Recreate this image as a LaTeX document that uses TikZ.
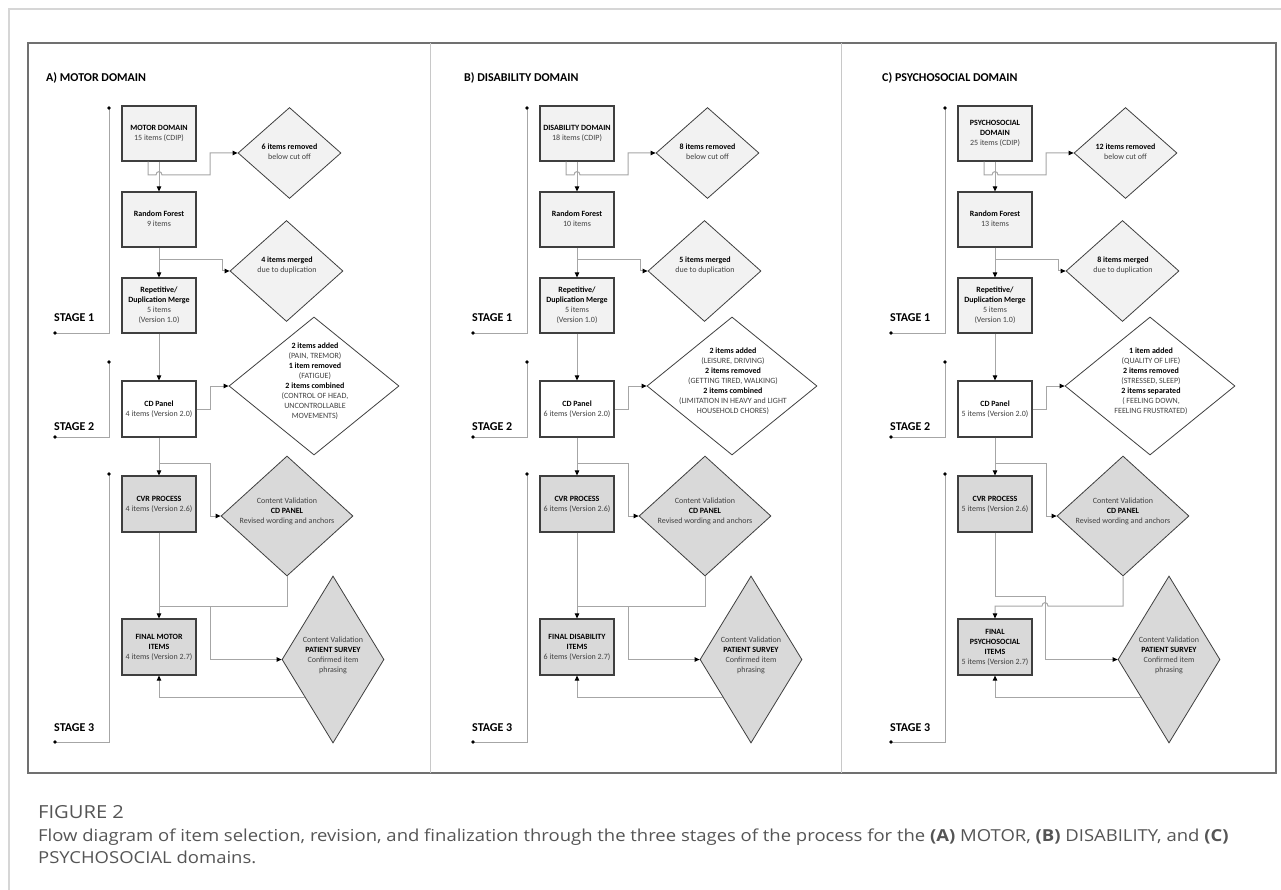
\documentclass[tikz,border=0pt]{standalone}
\usepackage{fontspec}
\setmainfont{Carlito}
\newfontfamily\capfont[FakeStretch=1.12]{Open Sans}
\usetikzlibrary{shapes.geometric,arrows.meta}
\definecolor{boxline}{HTML}{3F3F3F}
\definecolor{fillL}{HTML}{F2F2F2}
\definecolor{fillD}{HTML}{D9D9D9}
\definecolor{connc}{HTML}{A6A6A6}
\definecolor{txt}{HTML}{404040}
\definecolor{framec}{HTML}{707070}
\definecolor{divc}{HTML}{C8C8C8}
\definecolor{outerc}{HTML}{D6D6D6}
\definecolor{capc}{HTML}{555555}
\newcommand\bk[1]{\textcolor{black}{\bfseries #1}}
\newcommand\bt[2][0pt]{\raisebox{#1}{\begin{tabular}{@{}c@{}}#2\end{tabular}}}
\newcommand\panelbody{%
 \node[ttl] (ttl) at (46,82) {\tTitle};
 \coordinate (s1t) at (109,108); \coordinate (s1b) at (55,333);
 \coordinate (s2t) at (109,362); \coordinate (s2b) at (55,437);
 \coordinate (s3t) at (109,474); \coordinate (s3b) at (55,742);
 \draw[stg] (s1t) |- (s1b);
 \draw[stg] (s2t) |- (s2b);
 \draw[stg] (s3t) |- (s3b);
 \fill (s1t) circle (1.8pt) (s1b) circle (1.8pt) (s2t) circle (1.8pt)
       (s2b) circle (1.8pt) (s3t) circle (1.8pt) (s3b) circle (1.8pt);
 \node[stglbl] (l1) at (54,321) {STAGE 1};
 \node[stglbl] (l2) at (54,430) {STAGE 2};
 \node[stglbl] (l3) at (54,731) {STAGE 3};
 \node[pbox,fill=fillL] (b1) at (159,133.5) {\bt{\tBa}};
 \node[pbox,fill=fillL] (b2) at (159,219.5) {\bt{\tBb}};
 \node[pbox,fill=fillL] (b3) at (159,305.5) {\bt{\tBc}};
 \node[pbox,fill=white,minimum height=56pt] (b4) at (159,409) {\bt[5pt]{\tBd}};
 \node[pbox,fill=fillD,minimum height=56pt] (b5) at (159,504) {\bt[5pt]{\tBe}};
 \node[pbox,fill=fillD,minimum height=56pt] (b6) at (159,647) {\bt[4pt]{\tBf}};
 \node[pdia,fill=fillL,minimum width=103pt,minimum height=91pt] (d1) at (289.5,153) {};
 \node[dtxt] (t1) at (289.5,153) {\bt{\tDa}};
 \node[pdia,fill=fillL,minimum width=113pt,minimum height=101pt] (d2) at (286.5,271) {};
 \node[dtxt] (t2) at (287,266) {\bt{\tDb}};
 \node[pdia,fill=white,minimum width=170pt,minimum height=138pt] (d3) at (314,386) {};
 \node[dtxt] (t3) at (315,381.5) {\bt{\tDc}};
 \node[pdia,fill=fillD,minimum width=132pt,minimum height=120pt] (d4) at (287,516) {};
 \node[dtxt] (t4) at (287,511) {\bt{Content Validation\\\bk{CD PANEL}\\Revised wording and anchors}};
 \node[pdia,fill=fillD,minimum width=102pt,minimum height=167pt] (d5) at (333,659.5) {};
 \node[dtxt] (t5) at (333,655) {\bt{Content Validation\\\bk{PATIENT SURVEY}\\Confirmed item\\phrasing}};
 \draw[conn] ([xshift=-11pt]b1.south) -- (148,175) -- (156,175)
     .. controls (156,170.5) and (162,170.5) .. (162,175) -| (210,153) -- (d1.west);
 \draw[conn] (b1.south) -- (b2.north);
 \draw[conn] (b2.south) -- (b3.north);
 \draw[conn] ([yshift=-12pt]b2.south) -| (222,271) -- (d2.west);
 \draw[conn] (b3.south) -- (b4.north);
 \draw[conn] (b4.east) -- (210,409) |- (d3.west);
 \draw[conn] (b4.south) -- (b5.north);
 \draw[conn] ([yshift=-26pt]b4.south) -| (210,516) -- (d4.west);
 \draw[conn] ([xshift=-2.5pt,yshift=4pt]d5.south west) -| (b6.south);
}
\begin{document}
\begin{tikzpicture}[x=1pt,y=-1pt,
  ttl/.style={anchor=base west,inner sep=0pt,font=\bfseries\fontsize{12}{14}\selectfont},
  stglbl/.style={anchor=base west,inner sep=0pt,font=\bfseries\fontsize{12}{14}\selectfont},
  pbox/.style={draw=boxline,line width=1.2pt,minimum width=74pt,minimum height=55pt,inner sep=0pt,
     font=\fontsize{8}{10}\selectfont,text=txt},
  pdia/.style={diamond,draw=boxline,line width=0.8pt,inner sep=0pt},
  dtxt/.style={inner sep=0pt,font=\fontsize{8}{10}\selectfont,text=txt},
  conn/.style={draw=connc,line width=1pt,-{Triangle[length=5pt,width=4.5pt,color=black]}},
  connp/.style={draw=connc,line width=1pt},
  stg/.style={draw=connc,line width=0.9pt},
  captxt/.style={anchor=base west,inner sep=0pt,text=capc,font=\capfont\fontsize{16.5}{20}\selectfont}]
\useasboundingbox (0,0) rectangle (1281,890);
\fill[white] (0,0) rectangle (1281,890);
% frames
\draw[outerc,line width=1.5pt] (9,890) -- (9,9) -- (1281,9);
\draw[framec,line width=1.3pt] (28,43) rectangle (1276,773);
\draw[divc,line width=1pt] (430,43) -- (430,773);
\draw[divc,line width=1pt] (841,43) -- (841,773);
% panel A
\begin{scope}[name prefix=a-]
 \def\tTitle{A) MOTOR DOMAIN}
 \def\tBa{\bk{MOTOR DOMAIN}\\15 items (CDIP)}
 \def\tBb{\bk{Random Forest}\\9 items}
 \def\tBc{\bk{Repetitive/}\\\bk{Duplication Merge}\\5 items\\(Version 1.0)}
 \def\tBd{\bk{CD Panel}\\4 items (Version 2.0)}
 \def\tBe{\bk{CVR PROCESS}\\4 items (Version 2.6)}
 \def\tBf{\bk{FINAL MOTOR}\\\bk{ITEMS}\\4 items (Version 2.7)}
 \def\tDa{\bk{6 items removed}\\below cut off}
 \def\tDb{\bk{4 items merged}\\due to duplication}
 \def\tDc{\bk{2 items added}\\(PAIN, TREMOR)\\\bk{1 item removed}\\(FATIGUE)\\\bk{2 items combined}\\(CONTROL OF HEAD,\\UNCONTROLLABLE\\MOVEMENTS)}
 \panelbody
 \draw[conn] (b5.south) -- (b6.north);
 \draw[connp] (d4.south) |- (159,606);
 \draw[conn] (210,606) |- (d5.west);
\end{scope}
% panel B
\begin{scope}[xshift=418pt,name prefix=b-]
 \def\tTitle{B) DISABILITY DOMAIN}
 \def\tBa{\bk{DISABILITY DOMAIN}\\18 items (CDIP)}
 \def\tBb{\bk{Random Forest}\\10 items}
 \def\tBc{\bk{Repetitive/}\\\bk{Duplication Merge}\\5 items\\(Version 1.0)}
 \def\tBd{\bk{CD Panel}\\6 items (Version 2.0)}
 \def\tBe{\bk{CVR PROCESS}\\6 items (Version 2.6)}
 \def\tBf{\bk{FINAL DISABILITY}\\\bk{ITEMS}\\6 items (Version 2.7)}
 \def\tDa{\bk{8 items removed}\\below cut off}
 \def\tDb{\bk{5 items merged}\\due to duplication}
 \def\tDc{\bk{2 items added}\\(LEISURE, DRIVING)\\\bk{2 items removed}\\(GETTING TIRED, WALKING)\\\bk{2 items combined}\\(LIMITATION IN HEAVY and LIGHT\\HOUSEHOLD CHORES)}
 \panelbody
 \draw[conn] (b5.south) -- (b6.north);
 \draw[connp] (d4.south) |- (159,606);
 \draw[conn] (210,606) |- (d5.west);
\end{scope}
% panel C
\begin{scope}[xshift=836pt,name prefix=c-]
 \def\tTitle{C) PSYCHOSOCIAL DOMAIN}
 \def\tBa{\bk{PSYCHOSOCIAL}\\\bk{DOMAIN}\\25 items (CDIP)}
 \def\tBb{\bk{Random Forest}\\13 items}
 \def\tBc{\bk{Repetitive/}\\\bk{Duplication Merge}\\5 items\\(Version 1.0)}
 \def\tBd{\bk{CD Panel}\\5 items (Version 2.0)}
 \def\tBe{\bk{CVR PROCESS}\\5 items (Version 2.6)}
 \def\tBf{\bk{FINAL}\\\bk{PSYCHOSOCIAL}\\\bk{ITEMS}\\5 items (Version 2.7)}
 \def\tDa{\bk{12 items removed}\\below cut off}
 \def\tDb{\bk{8 items merged}\\due to duplication}
 \def\tDc{\bk{1 item added}\\(QUALITY OF LIFE)\\\bk{2 items removed}\\(STRESSED, SLEEP)\\\bk{2 items separated}\\( FEELING DOWN,\\FEELING FRUSTRATED)}
 \panelbody
 \draw[conn] (b5.south) |- (209,596) |- (d5.west);
 \draw[conn] (d4.south) |- (212,606) .. controls (212,601.5) and (206,601.5) .. (206,606) -| (b6.north);
\end{scope}
% caption
\node[captxt,font=\capfont\fontsize{18}{20}\selectfont] (fig) at (38,818) {FIGURE 2};
\node[captxt] (cap1) at (38,841)
 {Flow diagram of item selection, revision, and finalization through the three stages of the process for the \textbf{(A)} MOTOR, \textbf{(B)} DISABILITY, and \textbf{(C)}};
\node[captxt] (cap2) at (38,863) {PSYCHOSOCIAL domains.};
\end{tikzpicture}
\end{document}
